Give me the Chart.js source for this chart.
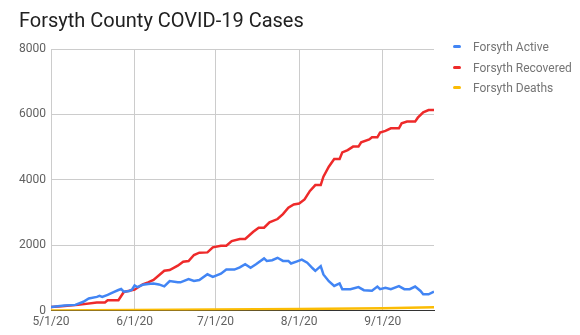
<!DOCTYPE html>
<html>
<head>
<meta charset="utf-8">
<script src="https://cdn.jsdelivr.net/npm/chart.js@4"></script>
<style>
  body { margin: 0; background: #fff; }
  #wrap { position: relative; width: 580px; height: 335px; }
  #legend { position: absolute; left: 453px; top: 39px; font: 12px Roboto, sans-serif; color: #757575; }
  #legend div { height: 20.5px; line-height: 16px; white-space: nowrap; }
  #legend span { display: inline-block; width: 8px; height: 3px; border-radius: 2px; margin-right: 12px; vertical-align: middle; position: relative; top: -1px; }
</style>
</head>
<body>
<div id="wrap">
  <canvas id="chart" width="580" height="335"></canvas>
  <div id="legend"></div>
</div>
<script>
// day offsets from 5/1/20
const monthDays = [0, 31, 61, 92, 123];
const monthLabels = ['5/1/20', '6/1/20', '7/1/20', '8/1/20', '9/1/20'];

const activeDays = [0, 5, 9, 12, 14, 17, 18, 19, 21, 23, 25, 26, 27, 29, 30, 31, 32, 34, 36, 38, 40, 42, 44, 47, 48, 51, 53, 55, 58, 60, 63, 65, 68, 70, 72, 74, 76, 79, 80, 82, 84, 86, 88, 89, 91, 93, 95, 97, 98, 100, 101, 103, 105, 107, 108, 111, 114, 116, 119, 121, 122, 124, 126, 129, 131, 133, 135, 137, 138, 140, 142];
const active = [110, 155, 175, 270, 370, 420, 450, 420, 480, 560, 630, 660, 580, 600, 640, 770, 720, 790, 815, 830, 800, 740, 905, 865, 865, 965, 905, 935, 1110, 1030, 1130, 1255, 1255, 1320, 1420, 1310, 1415, 1595, 1520, 1540, 1615, 1520, 1520, 1440, 1500, 1560, 1465, 1295, 1215, 1360, 1105, 900, 755, 830, 655, 655, 720, 625, 610, 735, 655, 700, 655, 750, 655, 655, 735, 600, 500, 500, 580];

const recoveredDays = [0, 4, 10, 17, 20, 21, 25, 27, 31, 34, 36, 38, 42, 44, 47, 49, 51, 53, 55, 58, 60, 63, 65, 67, 70, 72, 75, 77, 79, 81, 84, 86, 88, 90, 92, 94, 96, 98, 100, 101, 103, 105, 107, 108, 110, 112, 114, 115, 118, 119, 121, 122, 124, 126, 129, 130, 132, 135, 136, 138, 140, 142];
const recovered = [110, 130, 175, 245, 250, 315, 320, 570, 640, 805, 865, 935, 1220, 1240, 1375, 1495, 1515, 1700, 1770, 1780, 1935, 1985, 1985, 2125, 2190, 2190, 2410, 2535, 2535, 2700, 2800, 2950, 3145, 3245, 3275, 3400, 3660, 3840, 3840, 4095, 4400, 4635, 4635, 4840, 4910, 5015, 5015, 5145, 5235, 5300, 5300, 5445, 5495, 5575, 5575, 5725, 5780, 5780, 5900, 6065, 6135, 6135];

const deathDays = [0, 15, 31, 61, 92, 123, 142];
const deaths = [5, 10, 20, 30, 50, 75, 100];

const seriesNames = ['Forsyth Active', 'Forsyth Recovered', 'Forsyth Deaths'];
const seriesColors = ['#4285f4', '#ee2a2a', '#fbbc04'];

function points(days, vals) {
  return days.map((d, i) => ({ x: d, y: vals[i] }));
}

const allData = [points(activeDays, active), points(recoveredDays, recovered), points(deathDays, deaths)];

const ctx = document.getElementById('chart').getContext('2d');
const myChart = new Chart(ctx, {
  type: 'line',
  data: {
    datasets: seriesNames.map((name, i) => ({
      label: name,
      data: allData[i],
      borderColor: seriesColors[i],
      backgroundColor: seriesColors[i],
      borderWidth: 2.5,
      pointRadius: 0,
      tension: 0,
      fill: false
    }))
  },
  options: {
    responsive: false,
    animation: false,
    layout: { padding: { left: 19, right: 146, bottom: 2 } },
    plugins: {
      legend: { display: false },
      tooltip: { enabled: false },
      title: {
        display: true,
        text: 'Forsyth County COVID-19 Cases',
        align: 'start',
        color: '#212121',
        font: { family: 'Roboto', size: 20, weight: 'normal' },
        padding: { top: 10, bottom: 15 }
      }
    },
    scales: {
      x: {
        type: 'linear',
        min: 0,
        max: 142,
        afterBuildTicks: scale => { scale.ticks = monthDays.map(v => ({ value: v })); },
        ticks: {
          autoSkip: false,
          maxRotation: 0,
          padding: 4,
          color: '#616161',
          font: { family: 'Roboto', size: 12 },
          callback: value => monthLabels[monthDays.indexOf(value)]
        },
        grid: { color: '#cccccc', drawTicks: false },
        border: { color: '#333333' }
      },
      y: {
        min: 0,
        max: 8000,
        afterFit: scale => { scale.width = 32; },
        ticks: {
          stepSize: 2000,
          padding: 5,
          color: '#616161',
          font: { family: 'Roboto', size: 12 },
          callback: value => String(value)
        },
        grid: { color: '#cccccc', drawTicks: false },
        border: { display: false }
      }
    }
  }
});

// legend as html next to the plot
const legend = document.getElementById('legend');
seriesNames.forEach((name, i) => {
  const row = document.createElement('div');
  const sw = document.createElement('span');
  sw.style.background = seriesColors[i];
  row.appendChild(sw);
  row.appendChild(document.createTextNode(name));
  legend.appendChild(row);
});
</script>
</body>
</html>
